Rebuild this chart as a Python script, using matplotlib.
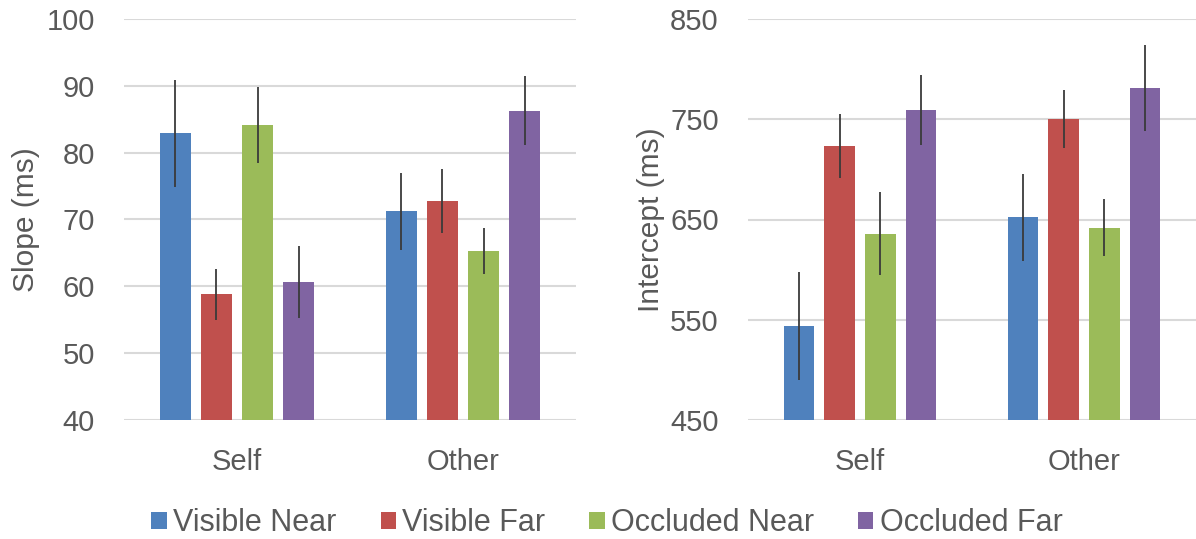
import matplotlib.pyplot as plt
import numpy as np
from matplotlib.patches import Patch

plt.rcParams['font.family'] = ['Liberation Sans', 'DejaVu Sans']

# Datos
categorias = ["Self", "Other"]
series = ["Visible Near", "Visible Far", "Occluded Near", "Occluded Far"]
colores = ["#4F81BD", "#C0504D", "#9BBB59", "#8064A2"]

slope = [[82.9, 71.2], [58.8, 72.8], [84.2, 65.3], [60.6, 86.3]]
slope_err = [[8.0, 5.7], [3.8, 4.8], [5.7, 3.4], [5.4, 5.2]]

intercept = [[544, 652], [723, 750], [636, 642], [759, 781]]
intercept_err = [[54, 43], [32, 29], [41, 28], [35, 43]]

gris = "#595959"
fig = plt.figure(figsize=(11.96, 5.39), dpi=100)

def panel(ax, valores, errores, ylim, ticks, ylabel, label_x):
    x = np.arange(len(categorias))
    paso = 0.182
    ancho = 0.135
    for i, (v, e) in enumerate(zip(valores, errores)):
        pos = x + (i - 1.5) * paso
        ax.bar(pos, v, width=ancho, color=colores[i], zorder=2)
        ax.errorbar(pos, v, yerr=e, fmt="none", ecolor="#3a3a3a",
                    elinewidth=1.3, capsize=0, zorder=3)
    ax.set_xlim(-0.5, 1.5)
    ax.set_ylim(*ylim)
    ax.set_yticks(ticks)
    ax.set_xticks(x)
    ax.set_xticklabels(categorias)
    ax.grid(axis="y", color="#D9D9D9", linewidth=1.5, zorder=0)
    ax.set_axisbelow(True)
    for s in ax.spines.values():
        s.set_visible(False)
    ax.tick_params(axis="y", length=0, pad=21, labelsize=21, labelcolor=gris)
    ax.tick_params(axis="x", length=0, pad=20, labelsize=21, labelcolor=gris)
    ax.set_ylabel(ylabel, fontsize=21.5, color=gris)
    ax.yaxis.set_label_coords(label_x, 0.5)

ax1 = fig.add_axes([124 / 1196, 119 / 539, 452 / 1196, 401 / 539])
panel(ax1, slope, slope_err, (40, 100), range(40, 101, 10), "Slope (ms)", -0.185)

ax2 = fig.add_axes([748 / 1196, 119 / 539, 448 / 1196, 401 / 539])
panel(ax2, intercept, intercept_err, (450, 850), range(450, 851, 100),
      "Intercept (ms)", -0.185)

handles = [Patch(facecolor=c, label=s) for c, s in zip(colores, series)]
fig.legend(handles=handles, loc="center", bbox_to_anchor=(0.5075, 0.029),
           ncol=4, frameon=False, fontsize=22, labelcolor=gris,
           handlelength=0.5, handleheight=0.5, handletextpad=0.2,
           columnspacing=1.45, borderpad=0)

fig.savefig("out.png", dpi=100)
